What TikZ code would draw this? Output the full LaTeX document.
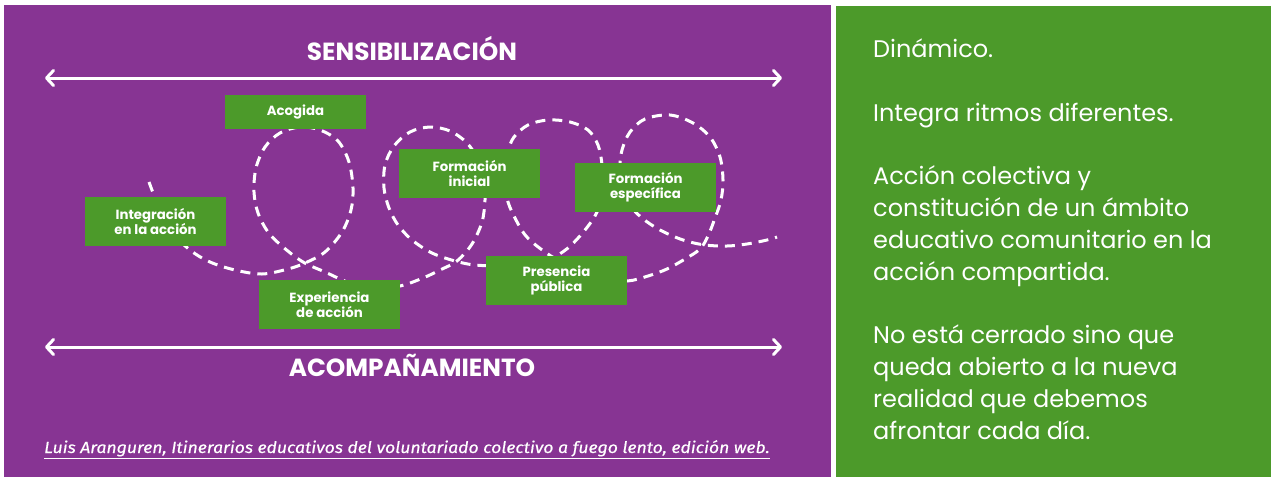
\documentclass[tikz,border=0pt]{standalone}
\usepackage{fontspec}
\setmainfont{Poppins}
\newfontfamily\citefont{Fira Sans}[FakeStretch=1.1,FakeBold=0.4]
\usetikzlibrary{arrows.meta}
\definecolor{purp}{HTML}{873493}
\definecolor{grn}{HTML}{4C9A2A}
\begin{document}
\begin{tikzpicture}[x=1pt,y=-1pt,
  stagebox/.style={fill=grn, minimum width=141pt, minimum height=49pt, inner sep=0pt, text=white, font=\bfseries\fontsize{13.3}{15}\selectfont, align=center},
  titletext/.style={text=white, font=\bfseries\fontsize{24.8}{28}\selectfont, inner sep=0pt, anchor=base},
  bigarrow/.style={white, line width=3pt, {Straight Barb[length=7pt,width=15pt,round]}-{Straight Barb[length=7pt,width=15pt,round]}},
  loopline/.style={white, line width=3pt, dash pattern=on 10pt off 7pt},
  bodytext/.style={text=white, font=\fontsize{24}{31.8}\selectfont, align=left, inner sep=0pt, anchor=base west}
]
\useasboundingbox (0,0) rectangle (1271,477);
\fill[white] (0,0) rectangle (1271,477);
\fill[purp] (4,5) rectangle (831,477);
\fill[grn] (836,6) rectangle (1271,477);

% dashed itinerary
\draw[loopline] plot[smooth, tension=0.55] coordinates {
 (149,182) (158,205) (172,232) (190,250) (210,262) (235,270) (262,274) (288,269) (305,263)
 (325,252) (342,232) (351,210) (353,188) (349,162) (338,141) (320,130) (300,127) (280,133)
 (265,147) (256,168) (254,192) (258,213) (268,232) (283,247) (303,262) (325,272) (350,283)
 (375,288) (400,286) (423,278) (440,270) (457,261) (472,244) (482,222) (485,200) (484,180)
 (478,160) (467,143) (450,131) (430,127) (410,132) (394,146) (385,165) (384,188) (389,208)
 (398,225) (412,240) (432,253) (455,261) (475,265) (505,266) (530,264) (550,259) (568,248)
 (585,230) (597,212) (602,190) (602,165) (598,145) (588,130) (570,122) (548,120) (528,125)
 (514,137) (508,152) (506,175) (507,198) (514,216) (526,236) (545,252) (570,267) (600,278)
 (627,281) (648,276) (667,269) (685,259) (700,249) (708,236) (715,218) (721,200) (723,180)
 (720,157) (710,137) (693,123) (670,115) (645,119) (630,132) (622,150) (620,168) (623,188)
 (630,205) (642,218) (660,230) (683,240) (705,245) (727,246) (747,244) (767,240) (777,237)};

% axes
\coordinate (tl) at (45,78);
\coordinate (tr) at (782,78);
\coordinate (bl) at (45,347);
\coordinate (br) at (782,347);
\draw[bigarrow] (tl) -- (tr);
\draw[bigarrow] (bl) -- (br);
\node[titletext] (sens) at (412,60) {SENSIBILIZACIÓN};
\node[titletext] (acomp) at (412,376) {ACOMPAÑAMIENTO};

% stages
\node[stagebox, minimum height=34pt] (acogida) at (295.5,112) {Acogida};
\node[stagebox] (integ) at (155.5,221.5) {Integración\\en la acción};
\node[stagebox] (forini) at (469.5,173.5) {Formación\\inicial};
\node[stagebox] (foresp) at (645.5,187.5) {Formación\\específica};
\node[stagebox] (presen) at (556.5,280.5) {Presencia\\pública};
\node[stagebox] (exper) at (329.5,304.5) {Experiencia\\de acción};

% citation
\node[anchor=base west, text=white, inner sep=0pt, font=\citefont\itshape\fontsize{16}{19}\selectfont] (cite) at (44,453)
 {\underline{Luis Aranguren, Itinerarios educativos del voluntariado colectivo a fuego lento, edición web.}};

% right panel (anchored at the baseline of its last line)
\node[bodytext] (desc) at (873,439) {Dinámico.\\[31.8pt]
Integra ritmos diferentes.\\[31.8pt]
Acción colectiva y\\
constitución de un ámbito\\
educativo comunitario en la\\
acción compartida.\\[31.8pt]
No está cerrado sino que\\
queda abierto a la nueva\\
realidad que debemos\\
afrontar cada día.};
\end{tikzpicture}
\end{document}
